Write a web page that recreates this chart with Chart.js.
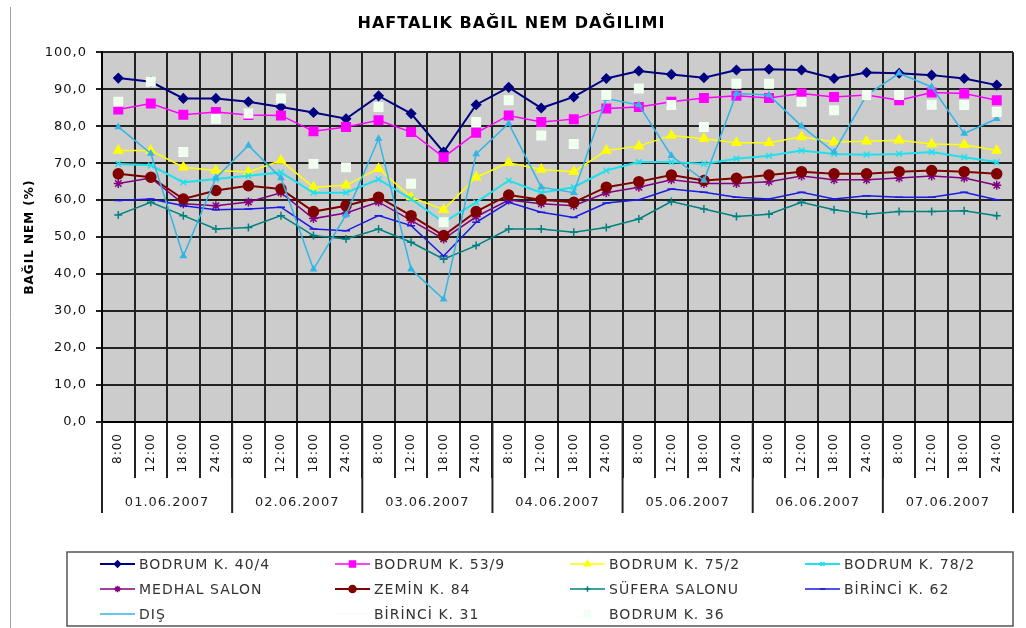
<!DOCTYPE html>
<html lang="tr">
<head>
<meta charset="utf-8">
<title>Haftalık Bağıl Nem Dağılımı</title>
<script src="https://cdn.jsdelivr.net/npm/chart.js@4.4.1/dist/chart.umd.min.js"></script>
<style>
  html, body { margin: 0; padding: 0; background: #fff; }
  #grafik { display: block; }
</style>
</head>
<body>
<canvas id="grafik" width="1026" height="628"></canvas>
<script>
const gunler = ["01.06.2007", "02.06.2007", "03.06.2007", "04.06.2007", "05.06.2007", "06.06.2007", "07.06.2007"];
const saatler = ["8:00", "12:00", "18:00", "24:00"];
const yTikleri = [0, 10, 20, 30, 40, 50, 60, 70, 80, 90, 100];

const bodrum404 = [93.0, 92.0, 87.5, 87.5, 86.6, 85.2, 83.7, 82.0, 88.2, 83.4, 73.0, 85.8, 90.5, 84.9, 87.9, 92.9, 94.9, 94.0, 93.1, 95.2, 95.4, 95.2, 92.9, 94.5, 94.3, 93.8, 92.9, 91.1];
const bodrum539 = [84.5, 86.1, 83.1, 83.8, 83.0, 82.9, 78.6, 79.8, 81.6, 78.4, 71.6, 78.2, 82.9, 81.1, 81.9, 84.8, 85.2, 86.6, 87.6, 88.2, 87.6, 88.8, 87.9, 88.4, 87.0, 89.1, 88.8, 87.0];
const bodrum752 = [73.4, 73.4, 68.9, 68.0, 67.6, 70.7, 63.5, 64.0, 68.5, 60.8, 57.4, 66.2, 70.1, 68.3, 67.7, 73.4, 74.6, 77.5, 76.6, 75.5, 75.5, 77.1, 75.7, 75.9, 76.2, 75.2, 75.0, 73.4];
const bodrum782 = [69.8, 69.4, 64.8, 65.7, 66.6, 67.5, 62.0, 62.0, 65.6, 60.3, 54.0, 59.4, 65.3, 62.0, 63.5, 68.0, 70.3, 70.3, 69.8, 71.2, 72.0, 73.4, 72.5, 72.3, 72.5, 73.0, 71.6, 70.3];
const medhalSalon = [64.5, 66.0, 59.0, 58.5, 59.5, 62.0, 55.0, 56.5, 59.5, 54.5, 49.5, 55.5, 60.0, 59.0, 58.5, 62.0, 63.5, 65.5, 64.5, 64.5, 65.0, 66.5, 65.5, 65.5, 66.0, 66.5, 66.0, 64.0];
const zemin84 = [67.1, 66.2, 60.3, 62.6, 63.9, 63.0, 56.9, 58.5, 60.8, 55.8, 50.4, 56.9, 61.4, 60.1, 59.4, 63.5, 65.0, 66.8, 65.3, 65.9, 66.8, 67.7, 67.1, 67.1, 67.7, 68.0, 67.7, 67.1];
const suferaSalonu = [56.0, 59.4, 55.8, 52.2, 52.6, 55.8, 50.4, 49.5, 52.2, 48.6, 44.0, 47.7, 52.2, 52.2, 51.3, 52.6, 54.9, 59.6, 57.6, 55.6, 56.2, 59.4, 57.4, 56.2, 56.9, 56.9, 57.1, 55.8];
const birinci62 = [59.9, 60.3, 58.5, 57.4, 57.6, 58.1, 52.2, 51.7, 55.8, 53.1, 44.9, 54.0, 59.4, 56.7, 55.3, 59.2, 60.1, 63.0, 62.1, 60.8, 60.3, 62.1, 60.3, 61.2, 60.8, 60.8, 62.1, 60.1];
const dis = [79.8, 72.6, 44.9, 66.0, 74.8, 66.0, 41.3, 56.0, 76.6, 41.3, 33.2, 72.5, 80.7, 63.5, 62.0, 87.5, 85.7, 72.0, 65.3, 88.8, 88.4, 80.0, 73.0, 88.4, 94.3, 90.6, 78.0, 82.0];
const birinci31 = [];
const bodrum36 = [86.6, 92.0, 73.0, 82.0, 83.4, 87.5, 69.8, 68.9, 85.2, 64.4, 54.0, 81.1, 87.0, 77.5, 75.2, 88.4, 90.2, 85.7, 79.8, 91.5, 91.5, 86.6, 84.3, 88.4, 88.4, 85.8, 85.7, 83.8];

// her gün için dört saat etiketi
const kategoriler = gunler.flatMap(() => saatler);

function seri(ad, veri, renk, nokta, yaricap, kalinlik, cizgi = true) {
  return {
    label: ad,
    data: veri,
    borderColor: renk,
    backgroundColor: renk,
    pointBackgroundColor: renk,
    pointBorderColor: renk,
    pointStyle: nokta,
    pointRadius: yaricap,
    pointBorderWidth: 1.5,
    borderWidth: kalinlik,
    showLine: cizgi,
    tension: 0,
  };
}

const seriler = [
  seri("BODRUM K. 40/4", bodrum404, "#000080", "rectRot", 4.5, 2),
  seri("BODRUM K. 53/9", bodrum539, "#FF00FF", "rect", 6, 1.5),
  seri("BODRUM K. 75/2", bodrum752, "#FFFF00", "triangle", 5, 1.5),
  seri("BODRUM K. 78/2", bodrum782, "#20E0EC", "crossRot", 4, 2),
  seri("MEDHAL SALON", medhalSalon, "#800080", "star", 4.5, 1.5),
  seri("ZEMİN K. 84", zemin84, "#800000", "circle", 5, 2),
  seri("SÜFERA SALONU", suferaSalonu, "#008080", "cross", 4, 1.5),
  seri("BİRİNCİ K. 62", birinci62, "#1A1AE0", "line", 4, 1.5),
  seri("DIŞ", dis, "#33B5E5", "triangle", 3, 1.5),
  seri("BİRİNCİ K. 31", birinci31, "#F4FCFC", false, 0, 1),
  seri("BODRUM K. 36", bodrum36, "#F0FFF0", "rect", 6, 1.5, false),
];
// Excel gibi sonraki seri üstte çizilsin
seriler.forEach((s, i) => { s.order = seriler.length - i; });

// eksen altı tarih satırı, arka plan ve çerçeveli gösterge
const eklenti = {
  id: "excelGorunumu",
  beforeLayout(chart) {
    chart.ctx.letterSpacing = "1px";
  },
  beforeDraw(chart) {
    const { ctx, chartArea: a } = chart;
    ctx.letterSpacing = "1px";
    ctx.save();
    ctx.fillStyle = "#fff";
    ctx.fillRect(0, 0, chart.width, chart.height);
    ctx.fillStyle = "#CCCCCC";
    ctx.fillRect(a.left, a.top, a.right - a.left, a.bottom - a.top);
    ctx.strokeStyle = "#a0a0a0";
    ctx.lineWidth = 1;
    ctx.beginPath();
    ctx.moveTo(10.5, 7);
    ctx.lineTo(10.5, chart.height);
    ctx.stroke();
    ctx.restore();
  },
  afterDraw(chart) {
    const { ctx, chartArea: a } = chart;
    const x = chart.scales.x;
    const yarim = (x.getPixelForValue(1) - x.getPixelForValue(0)) / 2;
    ctx.save();

    ctx.strokeStyle = "#222";
    ctx.lineWidth = 2;
    for (let g = 0; g <= gunler.length; g++) {
      const px = x.getPixelForValue(g * saatler.length) - yarim;
      ctx.beginPath();
      ctx.moveTo(px, a.bottom);
      ctx.lineTo(px, 513);
      ctx.stroke();
    }

    ctx.fillStyle = "#222";
    ctx.font = "13px 'DejaVu Sans'";
    ctx.textAlign = "center";
    ctx.textBaseline = "middle";
    gunler.forEach((g, i) => {
      const orta = (x.getPixelForValue(i * 4) + x.getPixelForValue(i * 4 + 3)) / 2;
      ctx.fillText(g, orta, 503);
    });

    // gösterge
    ctx.strokeStyle = "#555";
    ctx.lineWidth = 1.5;
    ctx.strokeRect(67, 552, 946, 74);
    const kolonlar = [100, 335, 570, 805];
    const satirlar = [564, 589, 614];
    ctx.textAlign = "left";
    ctx.font = "14px 'DejaVu Sans'";
    chart.data.datasets.forEach((ds, i) => {
      const x0 = kolonlar[i % 4];
      const y0 = satirlar[Math.floor(i / 4)];
      ctx.strokeStyle = ds.borderColor;
      ctx.fillStyle = ds.pointBackgroundColor;
      ctx.lineWidth = ds.borderWidth;
      if (ds.showLine !== false) {
        ctx.beginPath();
        ctx.moveTo(x0, y0);
        ctx.lineTo(x0 + 35, y0);
        ctx.stroke();
      }
      if (ds.label !== "DIŞ" && ds.pointStyle) {
        ctx.lineWidth = ds.pointBorderWidth;
        Chart.helpers.drawPoint(ctx, {
          pointStyle: ds.pointStyle,
          radius: ds.pointRadius * 0.7,
          rotation: 0,
          borderWidth: ds.pointBorderWidth,
        }, x0 + 17.5, y0);
      }
      ctx.fillStyle = "#333";
      ctx.fillText(ds.label, x0 + 39, y0 + 1);
    });
    ctx.restore();
  },
};

Chart.defaults.font.family = "'DejaVu Sans', sans-serif";
Chart.defaults.color = "#111";

new Chart(document.getElementById("grafik"), {
  type: "line",
  data: { labels: kategoriler, datasets: seriler },
  options: {
    responsive: false,
    animation: false,
    devicePixelRatio: 1,
    layout: { padding: { left: 10, right: 13, top: 0, bottom: 146 } },
    plugins: {
      legend: { display: false },
      tooltip: { enabled: false },
      title: {
        display: true,
        text: "HAFTALIK BAĞIL NEM DAĞILIMI",
        color: "#000",
        font: { size: 16, weight: "bold" },
        padding: { top: 14, bottom: 19 },
      },
    },
    scales: {
      x: {
        type: "category",
        offset: true,
        grid: { offset: true, color: "#222", lineWidth: 2, tickLength: 56, drawTicks: true },
        border: { display: true, color: "#000", width: 2 },
        ticks: {
          autoSkip: false,
          minRotation: 90,
          maxRotation: 90,
          padding: -45,
          font: { size: 12 },
          color: "#111",
        },
        afterFit(scale) { scale.height = 60; },
      },
      y: {
        min: 0,
        max: 100,
        afterBuildTicks(scale) { scale.ticks = yTikleri.map((v) => ({ value: v })); },
        grid: { color: "#222", lineWidth: 2, tickLength: 6 },
        border: { display: true, color: "#000", width: 2 },
        ticks: {
          padding: 9,
          font: { size: 13 },
          color: "#111",
          callback: (v) => v.toFixed(1).replace(".", ","),
        },
        title: {
          display: true,
          text: "BAĞIL NEM (%)",
          color: "#000",
          font: { size: 12, weight: "bold" },
          padding: { top: 13, bottom: 0 },
        },
        afterFit(scale) { scale.width = 92; },
      },
    },
  },
  plugins: [eklenti],
});
</script>
</body>
</html>
